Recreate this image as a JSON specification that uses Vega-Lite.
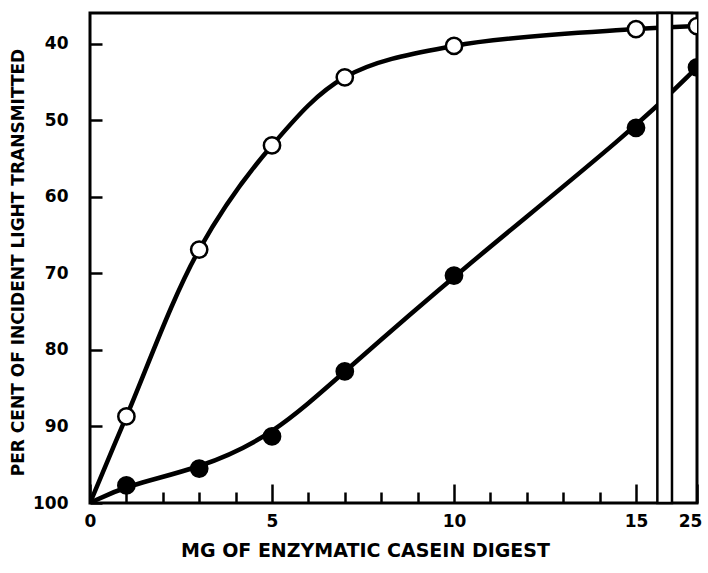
{
  "$schema": "https://vega.github.io/schema/vega-lite/v6.json",
  "width": 607,
  "height": 490,
  "autosize": "none",
  "padding": {"left": 90, "top": 13, "right": 11, "bottom": 70},
  "background": "white",
  "config": {
    "view": {"stroke": "black", "strokeWidth": 3},
    "axis": {
      "domain": false,
      "grid": false,
      "tickColor": "black",
      "tickWidth": 2.5,
      "labelColor": "black",
      "labelFont": "DejaVu Sans",
      "labelFontWeight": "bold",
      "labelFontSize": 17,
      "titleColor": "black",
      "titleFont": "DejaVu Sans",
      "titleFontWeight": "bold"
    }
  },
  "datasets": {
    "curves": [
      {"series": "open", "mg": 0, "pct": 100},
      {"series": "open", "mg": 1, "pct": 88.7},
      {"series": "open", "mg": 3, "pct": 66.9},
      {"series": "open", "mg": 5, "pct": 53.3},
      {"series": "open", "mg": 7, "pct": 44.4},
      {"series": "open", "mg": 10, "pct": 40.3},
      {"series": "open", "mg": 15, "pct": 38.1},
      {"series": "open", "mg": 25, "pct": 37.7},
      {"series": "filled", "mg": 0, "pct": 100},
      {"series": "filled", "mg": 1, "pct": 97.7},
      {"series": "filled", "mg": 3, "pct": 95.5},
      {"series": "filled", "mg": 5, "pct": 91.3},
      {"series": "filled", "mg": 7, "pct": 82.8},
      {"series": "filled", "mg": 10, "pct": 70.3},
      {"series": "filled", "mg": 15, "pct": 51.0},
      {"series": "filled", "mg": 25, "pct": 43.1}
    ],
    "axisbreak": [{"start": 18.5, "end": 20.9}]
  },
  "layer": [
    {
      "data": {"name": "curves"},
      "transform": [{"filter": "datum.series === 'open'"}],
      "mark": {"type": "line", "interpolate": "catmull-rom", "strokeWidth": 4.5, "color": "black", "clip": true},
      "encoding": {
        "x": {
          "field": "mg", "type": "quantitative",
          "scale": {"domain": [0, 15, 25], "range": [0, 546, 607], "nice": false, "zero": false},
          "axis": {
            "values": [0, 1, 2, 3, 4, 5, 6, 7, 8, 9, 10, 11, 12, 13, 14, 15, 25],
            "tickCount": 40,
            "format": "d",
            "labelOverlap": false,
            "labelFlush": false,
            "labelExpr": "datum.value % 5 === 0 ? datum.label : ''",
            "labelOffset": {"condition": {"test": "datum.value === 25", "value": -7}, "value": 0},
            "tickSize": {"condition": {"test": "datum.value % 5 === 0", "value": -19}, "value": -11},
            "labelPadding": 29,
            "title": "MG OF ENZYMATIC CASEIN DIGEST",
            "titleFontSize": 19,
            "titleX": 275,
            "titleY": 47,
            "titleBaseline": "middle"
          }
        },
        "y": {
          "field": "pct", "type": "quantitative",
          "scale": {"domain": [36, 100], "reverse": true, "nice": false, "zero": false},
          "axis": {
            "values": [40, 50, 60, 70, 80, 90, 100],
            "tickCount": 20,
            "format": "d",
            "labelOverlap": false,
            "labelFlush": false,
            "tickSize": -12,
            "labelPadding": 34,
            "title": "PER CENT OF INCIDENT LIGHT TRANSMITTED",
            "titleFontSize": 17,
            "titleX": -72,
            "titleY": 249,
            "titleBaseline": "middle"
          }
        }
      }
    },
    {
      "data": {"name": "curves"},
      "transform": [{"filter": "datum.series === 'filled'"}],
      "mark": {"type": "line", "interpolate": "basis", "strokeWidth": 4.5, "color": "black", "clip": true},
      "encoding": {
        "x": {"field": "mg", "type": "quantitative"},
        "y": {"field": "pct", "type": "quantitative"}
      }
    },
    {
      "data": {"name": "axisbreak"},
      "mark": {"type": "rect", "fill": "white", "stroke": "black", "strokeWidth": 2.5},
      "encoding": {
        "x": {"field": "start", "type": "quantitative"},
        "x2": {"field": "end"}
      }
    },
    {
      "data": {"name": "curves"},
      "transform": [{"filter": "datum.mg > 0"}],
      "mark": {"type": "point", "shape": "circle", "size": 265, "stroke": "black", "strokeWidth": 2.5, "opacity": 1, "filled": true, "clip": true},
      "encoding": {
        "x": {"field": "mg", "type": "quantitative"},
        "y": {"field": "pct", "type": "quantitative"},
        "fill": {
          "field": "series", "type": "nominal",
          "scale": {"domain": ["open", "filled"], "range": ["white", "black"]},
          "legend": null
        }
      }
    }
  ]
}
